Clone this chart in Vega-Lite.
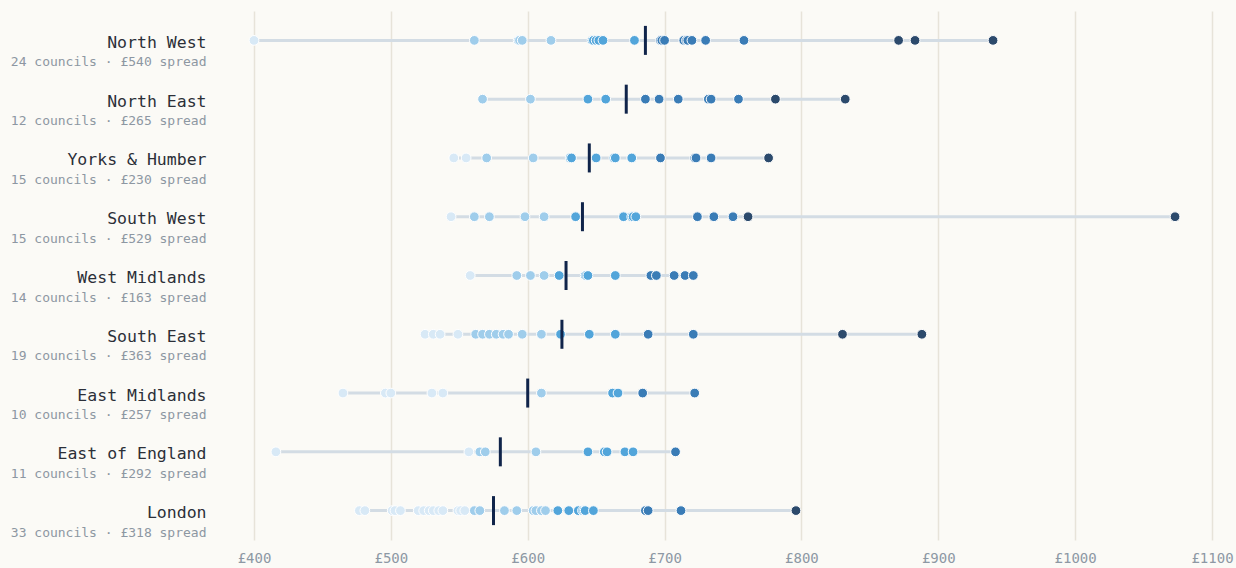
{
  "$schema": "https://vega.github.io/schema/vega-lite/v6.json",
  "width": 958,
  "height": 529,
  "autosize": {"type": "none"},
  "padding": {"left": 254, "top": 11, "right": 24, "bottom": 28},
  "config": {
    "background": "#fbfaf6",
    "view": {"stroke": null},
    "font": "DejaVu Sans Mono"
  },
  "datasets": {
    "regions": [
      {"region": "North West", "key": "North West|24 councils · £540 spread", "avg": 686},
      {"region": "North East", "key": "North East|12 councils · £265 spread", "avg": 672},
      {"region": "Yorks & Humber", "key": "Yorks & Humber|15 councils · £230 spread", "avg": 645},
      {"region": "South West", "key": "South West|15 councils · £529 spread", "avg": 640},
      {"region": "West Midlands", "key": "West Midlands|14 councils · £163 spread", "avg": 628},
      {"region": "South East", "key": "South East|19 councils · £363 spread", "avg": 625},
      {"region": "East Midlands", "key": "East Midlands|10 councils · £257 spread", "avg": 600},
      {"region": "East of England", "key": "East of England|11 councils · £292 spread", "avg": 580},
      {"region": "London", "key": "London|33 councils · £318 spread", "avg": 575}
    ],
    "councils": [
      {"region": "North West", "tax": 400}, {"region": "North West", "tax": 561}, {"region": "North West", "tax": 593}, {"region": "North West", "tax": 594}, {"region": "North West", "tax": 596}, {"region": "North West", "tax": 617}, {"region": "North West", "tax": 647}, {"region": "North West", "tax": 648}, {"region": "North West", "tax": 650}, {"region": "North West", "tax": 652}, {"region": "North West", "tax": 655}, {"region": "North West", "tax": 678}, {"region": "North West", "tax": 697}, {"region": "North West", "tax": 698}, {"region": "North West", "tax": 700}, {"region": "North West", "tax": 714}, {"region": "North West", "tax": 716}, {"region": "North West", "tax": 717}, {"region": "North West", "tax": 720}, {"region": "North West", "tax": 730}, {"region": "North West", "tax": 758}, {"region": "North West", "tax": 871}, {"region": "North West", "tax": 883}, {"region": "North West", "tax": 940},
      {"region": "North East", "tax": 567}, {"region": "North East", "tax": 602}, {"region": "North East", "tax": 644}, {"region": "North East", "tax": 657}, {"region": "North East", "tax": 686}, {"region": "North East", "tax": 696}, {"region": "North East", "tax": 710}, {"region": "North East", "tax": 732}, {"region": "North East", "tax": 734}, {"region": "North East", "tax": 754}, {"region": "North East", "tax": 781}, {"region": "North East", "tax": 832},
      {"region": "Yorks & Humber", "tax": 546}, {"region": "Yorks & Humber", "tax": 555}, {"region": "Yorks & Humber", "tax": 570}, {"region": "Yorks & Humber", "tax": 604}, {"region": "Yorks & Humber", "tax": 631}, {"region": "Yorks & Humber", "tax": 632}, {"region": "Yorks & Humber", "tax": 650}, {"region": "Yorks & Humber", "tax": 663}, {"region": "Yorks & Humber", "tax": 664}, {"region": "Yorks & Humber", "tax": 676}, {"region": "Yorks & Humber", "tax": 697}, {"region": "Yorks & Humber", "tax": 722}, {"region": "Yorks & Humber", "tax": 723}, {"region": "Yorks & Humber", "tax": 734}, {"region": "Yorks & Humber", "tax": 776},
      {"region": "South West", "tax": 544}, {"region": "South West", "tax": 561}, {"region": "South West", "tax": 572}, {"region": "South West", "tax": 598}, {"region": "South West", "tax": 612}, {"region": "South West", "tax": 635}, {"region": "South West", "tax": 670}, {"region": "South West", "tax": 676}, {"region": "South West", "tax": 677}, {"region": "South West", "tax": 679}, {"region": "South West", "tax": 724}, {"region": "South West", "tax": 736}, {"region": "South West", "tax": 750}, {"region": "South West", "tax": 761}, {"region": "South West", "tax": 1073},
      {"region": "West Midlands", "tax": 558}, {"region": "West Midlands", "tax": 592}, {"region": "West Midlands", "tax": 602}, {"region": "West Midlands", "tax": 612}, {"region": "West Midlands", "tax": 623}, {"region": "West Midlands", "tax": 642}, {"region": "West Midlands", "tax": 643}, {"region": "West Midlands", "tax": 644}, {"region": "West Midlands", "tax": 664}, {"region": "West Midlands", "tax": 690}, {"region": "West Midlands", "tax": 694}, {"region": "West Midlands", "tax": 707}, {"region": "West Midlands", "tax": 715}, {"region": "West Midlands", "tax": 721},
      {"region": "South East", "tax": 525}, {"region": "South East", "tax": 531}, {"region": "South East", "tax": 536}, {"region": "South East", "tax": 549}, {"region": "South East", "tax": 562}, {"region": "South East", "tax": 567}, {"region": "South East", "tax": 572}, {"region": "South East", "tax": 577}, {"region": "South East", "tax": 582}, {"region": "South East", "tax": 586}, {"region": "South East", "tax": 596}, {"region": "South East", "tax": 610}, {"region": "South East", "tax": 624}, {"region": "South East", "tax": 645}, {"region": "South East", "tax": 664}, {"region": "South East", "tax": 688}, {"region": "South East", "tax": 721}, {"region": "South East", "tax": 830}, {"region": "South East", "tax": 888},
      {"region": "East Midlands", "tax": 465}, {"region": "East Midlands", "tax": 496}, {"region": "East Midlands", "tax": 500}, {"region": "East Midlands", "tax": 530}, {"region": "East Midlands", "tax": 538}, {"region": "East Midlands", "tax": 610}, {"region": "East Midlands", "tax": 662}, {"region": "East Midlands", "tax": 666}, {"region": "East Midlands", "tax": 684}, {"region": "East Midlands", "tax": 722},
      {"region": "East of England", "tax": 416}, {"region": "East of England", "tax": 557}, {"region": "East of England", "tax": 565}, {"region": "East of England", "tax": 569}, {"region": "East of England", "tax": 606}, {"region": "East of England", "tax": 644}, {"region": "East of England", "tax": 656}, {"region": "East of England", "tax": 658}, {"region": "East of England", "tax": 671}, {"region": "East of England", "tax": 677}, {"region": "East of England", "tax": 708},
      {"region": "London", "tax": 477}, {"region": "London", "tax": 481}, {"region": "London", "tax": 501}, {"region": "London", "tax": 503}, {"region": "London", "tax": 507}, {"region": "London", "tax": 520}, {"region": "London", "tax": 524}, {"region": "London", "tax": 528}, {"region": "London", "tax": 531}, {"region": "London", "tax": 535}, {"region": "London", "tax": 538}, {"region": "London", "tax": 549}, {"region": "London", "tax": 551}, {"region": "London", "tax": 554}, {"region": "London", "tax": 561}, {"region": "London", "tax": 565}, {"region": "London", "tax": 583}, {"region": "London", "tax": 592}, {"region": "London", "tax": 604}, {"region": "London", "tax": 606}, {"region": "London", "tax": 610}, {"region": "London", "tax": 613}, {"region": "London", "tax": 622}, {"region": "London", "tax": 630}, {"region": "London", "tax": 637}, {"region": "London", "tax": 640}, {"region": "London", "tax": 641}, {"region": "London", "tax": 642}, {"region": "London", "tax": 648}, {"region": "London", "tax": 686}, {"region": "London", "tax": 688}, {"region": "London", "tax": 712}, {"region": "London", "tax": 796}
    ]
  },
  "layer": [
    {
      "data": {"name": "councils"},
      "transform": [
        {"lookup": "region", "from": {"data": {"name": "regions"}, "key": "region", "fields": ["key"]}}
      ],
      "mark": {"type": "rule", "color": "#d3dce4", "strokeWidth": 3},
      "encoding": {
        "y": {
          "field": "key", "type": "nominal",
          "sort": ["North West|24 councils · £540 spread", "North East|12 councils · £265 spread", "Yorks & Humber|15 councils · £230 spread", "South West|15 councils · £529 spread", "West Midlands|14 councils · £163 spread", "South East|19 councils · £363 spread", "East Midlands|10 councils · £257 spread", "East of England|11 councils · £292 spread", "London|33 councils · £318 spread"],
          "scale": {"type": "point", "padding": 0.5},
          "axis": {"orient": "left", "title": null, "domain": false, "ticks": false, "tickSize": 0, "grid": false, "labelPadding": 48, "labelAlign": "right", "labelBaseline": "alphabetic", "labelOffset": 7, "labelFontSize": 16.5, "labelColor": "#2b2f38", "labelLimit": 400, "labelFont": "DejaVu Sans Mono", "labelExpr": "split(datum.value, '|')[0]"}
        },
        "x": {
          "field": "tax", "type": "quantitative", "aggregate": "min", "title": null,
          "scale": {"domain": [400, 1100], "nice": false, "zero": false},
          "axis": {"values": [400, 500, 600, 700, 800, 900, 1000, 1100], "labelExpr": "'£' + datum.value", "labelFlush": false, "grid": true, "gridColor": "#e7e3d9", "gridWidth": 1.5, "domain": false, "ticks": false, "tickSize": 0, "labelPadding": 11, "labelFontSize": 14, "labelColor": "#8d98a4", "labelFont": "DejaVu Sans Mono", "title": null}
        },
        "x2": {"field": "tax", "aggregate": "max"}
      }
    },
    {
      "data": {"name": "councils"},
      "transform": [
        {"lookup": "region", "from": {"data": {"name": "regions"}, "key": "region", "fields": ["key"]}}
      ],
      "mark": {"type": "circle", "size": 95, "stroke": "#ffffff", "strokeWidth": 1, "opacity": 1},
      "encoding": {
        "y": {
          "field": "key", "type": "nominal",
          "sort": ["North West|24 councils · £540 spread", "North East|12 councils · £265 spread", "Yorks & Humber|15 councils · £230 spread", "South West|15 councils · £529 spread", "West Midlands|14 councils · £163 spread", "South East|19 councils · £363 spread", "East Midlands|10 councils · £257 spread", "East of England|11 councils · £292 spread", "London|33 councils · £318 spread"],
          "scale": {"type": "point", "padding": 0.5},
          "axis": null
        },
        "x": {"field": "tax", "type": "quantitative", "title": null},
        "color": {
          "field": "tax", "type": "quantitative",
          "scale": {"type": "threshold", "domain": [560, 620, 682, 760], "range": ["#d8e9f6", "#9fcdeb", "#52a5da", "#3a7cb6", "#2c4a6c"]},
          "legend": null
        }
      }
    },
    {
      "data": {"name": "regions"},
      "mark": {"type": "tick", "color": "#10244a", "thickness": 3, "size": 29, "opacity": 1},
      "encoding": {
        "y": {
          "field": "key", "type": "nominal",
          "sort": ["North West|24 councils · £540 spread", "North East|12 councils · £265 spread", "Yorks & Humber|15 councils · £230 spread", "South West|15 councils · £529 spread", "West Midlands|14 councils · £163 spread", "South East|19 councils · £363 spread", "East Midlands|10 councils · £257 spread", "East of England|11 councils · £292 spread", "London|33 councils · £318 spread"],
          "scale": {"type": "point", "padding": 0.5},
          "axis": {"orient": "left", "title": null, "domain": false, "ticks": false, "tickSize": 0, "grid": false, "labelPadding": 48, "labelAlign": "right", "labelBaseline": "alphabetic", "labelOffset": 25.5, "labelFontSize": 13, "labelColor": "#8d97a2", "labelLimit": 400, "labelFont": "DejaVu Sans Mono", "labelExpr": "split(datum.value, '|')[1]"}
        },
        "x": {"field": "avg", "type": "quantitative", "title": null}
      }
    }
  ],
  "resolve": {"axis": {"y": "independent"}}
}
